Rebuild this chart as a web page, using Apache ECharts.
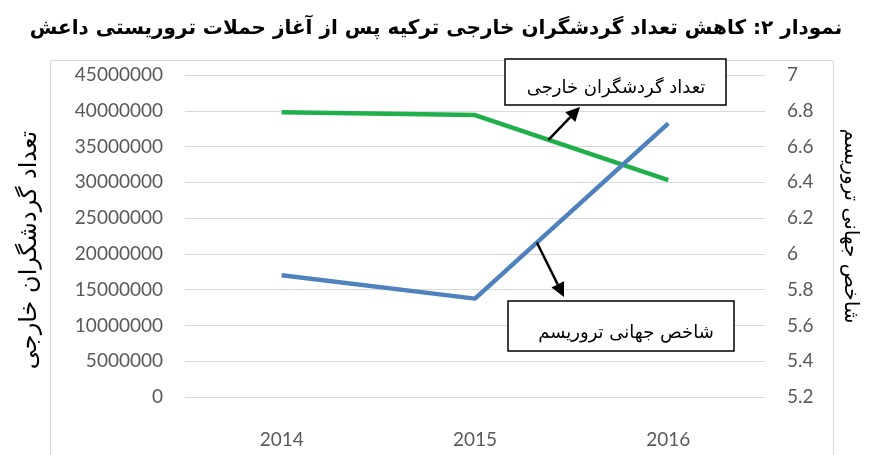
<!DOCTYPE html>
<html>
<head>
<meta charset="utf-8">
<script src="https://cdn.jsdelivr.net/npm/echarts@6/dist/echarts.min.js"></script>
<style>
  html, body { margin: 0; padding: 0; background: #fff; }
  #main { width: 872px; height: 455px; }
</style>
</head>
<body>
<div id="main"></div>
<script>
const years = ['2014', '2015', '2016']
const touristCount = [39800000, 39400000, 30300000]
const terrorIndex = [5.88, 5.75, 6.73]

const titleText = 'نمودار ۲: کاهش تعداد گردشگران خارجی ترکیه پس از آغاز حملات تروریستی داعش'
const touristName = 'تعداد گردشگران خارجی'
const terrorName = 'شاخص جهانی تروریسم'

const numFont = 'Lato'
const faFont = 'DejaVu Sans'

const chart = echarts.init(document.getElementById('main'))

chart.setOption({
  animation: false,
  title: {
    text: titleText,
    left: 'center',
    top: 14,
    textStyle: { fontFamily: faFont, fontWeight: 'bold', fontSize: 20, color: '#000' }
  },
  grid: { left: 185, right: 107, top: 75, bottom: 58, containLabel: false },
  xAxis: {
    type: 'category',
    data: years,
    axisLine: { show: false },
    axisTick: { show: false },
    axisLabel: { color: '#595959', fontFamily: numFont, fontSize: 19, margin: 33 }
  },
  yAxis: [
    {
      type: 'value',
      min: 0,
      max: 45000000,
      interval: 5000000,
      name: touristName,
      nameLocation: 'middle',
      nameGap: 143,
      nameRotate: 90,
      nameTextStyle: { fontFamily: faFont, fontSize: 24, color: '#000', padding: [0, 0, 0, -28] },
      axisLine: { show: false },
      axisTick: { show: false },
      axisLabel: { color: '#595959', fontFamily: numFont, fontSize: 19, margin: 22, formatter: v => String(v) },
      splitLine: { lineStyle: { color: '#d9d9d9', width: 1 } }
    },
    {
      type: 'value',
      min: 5.2,
      max: 7,
      interval: 0.2,
      name: terrorName,
      nameLocation: 'middle',
      nameGap: 75,
      nameRotate: -90,
      nameTextStyle: { fontFamily: faFont, fontSize: 20, color: '#000', padding: [0, 20, 0, 0] },
      axisLine: { show: false },
      axisTick: { show: false },
      axisLabel: { color: '#595959', fontFamily: numFont, fontSize: 19, margin: 22, formatter: v => String(+v.toFixed(1)) },
      splitLine: { show: false }
    }
  ],
  series: [
    {
      name: touristName,
      type: 'line',
      yAxisIndex: 0,
      data: touristCount,
      symbol: 'none',
      lineStyle: { color: '#1fb04c', width: 4.5 },
      z: 3
    },
    {
      name: terrorName,
      type: 'line',
      yAxisIndex: 1,
      data: terrorIndex,
      symbol: 'none',
      lineStyle: { color: '#4f81bd', width: 4.5 },
      z: 4
    }
  ]
})

// callouts: boxes + arrows pointing from the lines to the boxes
function arrow(x1, y1, x2, y2) {
  const ang = Math.atan2(y2 - y1, x2 - x1)
  const len = 14, half = 7
  const bx = x2 - len * Math.cos(ang), by = y2 - len * Math.sin(ang)
  const px = -Math.sin(ang) * half, py = Math.cos(ang) * half
  return [
    { type: 'line', shape: { x1: x1, y1: y1, x2: bx, y2: by }, style: { stroke: '#000', lineWidth: 2.5 }, z: 10 },
    { type: 'polygon', shape: { points: [[x2, y2], [bx + px, by + py], [bx - px, by - py]] }, style: { fill: '#000' }, z: 10 }
  ]
}

function onLine(seriesIndex, values, i, t) {
  const a = chart.convertToPixel({ seriesIndex: seriesIndex }, [i, values[i]])
  const b = chart.convertToPixel({ seriesIndex: seriesIndex }, [i + 1, values[i + 1]])
  return [a[0] + (b[0] - a[0]) * t, a[1] + (b[1] - a[1]) * t]
}

const gTail = onLine(0, touristCount, 1, 0.38)
const bTail = onLine(1, terrorIndex, 1, 0.32)

chart.setOption({
  graphic: [
    { type: 'rect', shape: { x: 50.5, y: 60.5, width: 783, height: 420 }, style: { fill: null, stroke: '#d9d9d9', lineWidth: 1 }, z: 0 },
    { type: 'rect', shape: { x: 505, y: 59, width: 221, height: 46 }, style: { fill: '#fff', stroke: '#000', lineWidth: 1.5 }, z: 11 },
    { type: 'text', x: 616, y: 88, style: { text: touristName, fontFamily: faFont, fontSize: 18, fill: '#000', align: 'center', verticalAlign: 'middle' }, z: 12 },
    { type: 'rect', shape: { x: 508, y: 301, width: 226, height: 50 }, style: { fill: '#fff', stroke: '#000', lineWidth: 1.5 }, z: 11 },
    { type: 'text', x: 626, y: 333, style: { text: terrorName, fontFamily: faFont, fontSize: 18, fill: '#000', align: 'center', verticalAlign: 'middle' }, z: 12 },
    ...arrow(gTail[0], gTail[1], 580, 107),
    ...arrow(bTail[0], bTail[1], 564, 297)
  ]
})
</script>
</body>
</html>
